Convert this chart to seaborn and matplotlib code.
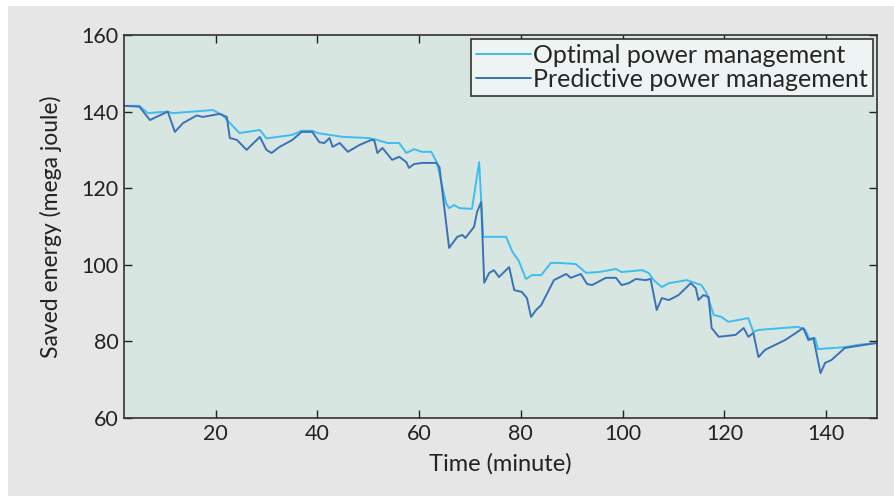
import numpy as np
import pandas as pd
import seaborn as sns
import matplotlib.pyplot as plt
from matplotlib.patches import Rectangle

# time (minute) and saved energy (mega joule)
opt_time = [2, 5, 6.7, 10.4, 11.6, 19.5, 21.4, 24.7, 28.7, 30, 35, 36.9, 39, 40, 45,
            50, 51.2, 53.8, 56.1, 57.5, 59, 60.6, 62.4, 63.5, 65.3, 65.9, 66.9, 67.9,
            70.4, 71.8, 72.6, 77.1, 78.3, 79.6, 81, 82.2, 84, 85.9, 87.5, 90.8, 92.8,
            95.3, 98.7, 99.8, 103.8, 105.1, 106.1, 107.7, 109.1, 112.6, 115.5, 116.5,
            117.9, 119.4, 120.8, 124.7, 125.7, 126.7, 134.5, 135.9, 136.8, 137.8,
            138.4, 143.7, 146.3, 150]
opt_energy = [141.5, 141.5, 139.6, 140, 139.6, 140.4, 139, 134.4, 135.2, 133, 133.9,
              135, 135, 134.4, 133.4, 133.1, 132.8, 131.8, 131.8, 129.2, 130.2, 129.5,
              129.5, 126.7, 116.1, 114.8, 115.6, 114.8, 114.6, 126.8, 107.3, 107.3,
              103.5, 101, 96.3, 97.3, 97.3, 100.5, 100.5, 100.2, 97.9, 98.1, 98.9,
              98.1, 98.6, 97.9, 96, 94.2, 95.2, 96, 94.7, 92.6, 86.9, 86.4, 85.1, 86.1,
              82.5, 83, 83.8, 83, 80.4, 80.9, 78, 78.5, 79.1, 79.6]

pred_time = [2, 5, 7.1, 10.6, 12, 13.6, 16.3, 17.5, 20.8, 22.2, 22.8, 24.2, 26.1, 28.7,
             30, 31, 32.6, 35.1, 36.9, 39, 40.4, 41.4, 42.4, 43, 44.4, 46, 48.3, 50.6,
             51.2, 51.8, 52.8, 54.7, 56.1, 57.5, 58, 59, 60.6, 63.4, 64, 65.9, 67.5,
             68.5, 69.1, 70.8, 71.4, 72.2, 72.8, 73.8, 74.7, 75.7, 77.7, 78.7, 80.2,
             81.2, 82, 83, 84, 85.5, 86.5, 88.9, 89.8, 91.8, 93, 94, 96.7, 98.7, 99.8,
             101.2, 102.6, 104.5, 105.5, 106.7, 107.7, 109.1, 111, 113.4, 114.4, 114.9,
             115.9, 116.9, 117.5, 118.9, 122.2, 123.8, 124.7, 125.7, 126.7, 128, 132,
             135.5, 136.5, 137.5, 138.9, 139.8, 141, 143.7, 150]
pred_energy = [141.5, 141.3, 137.8, 140, 134.7, 137, 139, 138.6, 139.4, 138.6, 133.1,
               132.6, 130, 133.4, 130, 129.2, 130.8, 132.6, 134.7, 134.7, 132, 131.8,
               133.1, 130.8, 131.8, 129.5, 131.3, 132.6, 132.5, 129.2, 130.5, 127.4,
               128.2, 126.8, 125.3, 126.3, 126.6, 126.6, 125.5, 104.4, 107.3, 107.8,
               107, 109.9, 113.8, 116.4, 95.3, 97.9, 98.6, 96.8, 99.4, 93.4, 92.9, 91.3,
               86.4, 88.2, 89.5, 93.4, 96, 97.6, 96.6, 97.6, 95, 94.7, 96.6, 96.6, 94.7,
               95.2, 96.3, 96, 96.3, 88.2, 91.3, 90.8, 92.1, 95.2, 93.9, 90.8, 92.1,
               91.6, 83.5, 81.2, 81.7, 83.5, 81.2, 82.2, 75.9, 77.8, 80.4, 83.5, 80.4,
               80.9, 71.7, 74.4, 75.1, 78.3, 79.6]

sns.set_style('ticks')
plt.rcParams['font.family'] = ['Lato', 'DejaVu Sans']

fig = plt.figure(figsize=(8.94, 4.96), dpi=100, facecolor='white')
fig.patches.append(Rectangle((8 / 894, 0), 1, 1 - 6 / 496, transform=fig.transFigure,
                             facecolor='#e6e6e6', edgecolor='none', zorder=-10))
ax = fig.add_axes([124 / 894, 1 - 418 / 496, (877 - 124) / 894, (418 - 35) / 496])
ax.set_facecolor('#d7e6e1')

sns.lineplot(x=opt_time, y=opt_energy, color='#3dbdf0', lw=1.4, ax=ax,
             label='Optimal power management')
sns.lineplot(x=pred_time, y=pred_energy, color='#3a72b8', lw=1.4, ax=ax,
             label='Predictive power management')

ax.set_xlim(2, 150)
ax.set_ylim(60, 160)
ax.set_xticks(range(20, 141, 20))
ax.set_yticks(range(60, 161, 20))
ax.tick_params(direction='in', top=True, right=True, length=6, width=1,
               labelsize=15.5, colors='#222222', pad=4)
for s in ax.spines.values():
    s.set_color('#333333')
    s.set_linewidth(1.2)
ax.set_xlabel('Time (minute)', fontsize=17, color='#222222', labelpad=7)
ax.set_ylabel('Saved energy (mega joule)', fontsize=16.5, color='#222222', labelpad=14)

leg = ax.legend(loc='upper right', fontsize=18, frameon=True, fancybox=False,
                borderaxespad=0.15, borderpad=0.2, handlelength=2.2, handletextpad=0.1,
                labelspacing=0.05)
leg.get_frame().set_edgecolor('#333333')
leg.get_frame().set_facecolor('#eef4f4')
leg.get_frame().set_alpha(1)
leg.get_frame().set_linewidth(1.2)

fig.savefig('out.png', dpi=100)
